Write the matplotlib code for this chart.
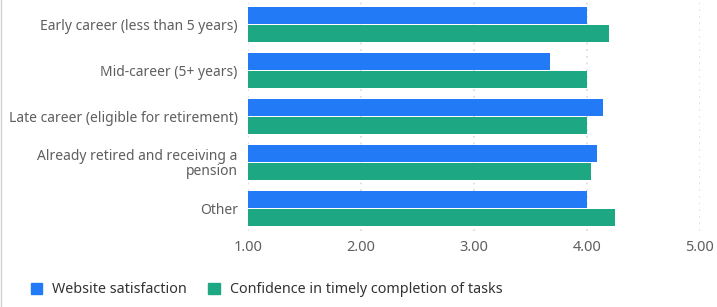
import numpy as np
import matplotlib.pyplot as plt
from matplotlib.lines import Line2D

categories = ['Early career (less than 5 years)', 'Mid-career (5+ years)',
              'Late career (eligible for retirement)',
              'Already retired and receiving a\npension', 'Other']
website = [4.00, 3.67, 4.14, 4.09, 4.00]
confidence = [4.20, 4.00, 4.00, 4.04, 4.25]
series_names = ['Website satisfaction', 'Confidence in timely completion of tasks']
xticks = [1, 2, 3, 4, 5]

blue = '#237AF7'
green = '#1DA782'
txt = '#5f5f5f'

plt.rcParams['font.family'] = ['Noto Sans', 'DejaVu Sans']

fig = plt.figure(figsize=(7.17, 3.07), dpi=100)
ax = fig.add_axes([0.346, 0.246, 0.630, 0.749])

y = np.arange(len(categories))
h = 0.36  # bar height
gap = 0.035
ax.barh(y - h / 2 - gap / 2, np.array(website) - 1, left=1, height=h, color=blue, label=series_names[0])
ax.barh(y + h / 2 + gap / 2, np.array(confidence) - 1, left=1, height=h, color=green, label=series_names[1])

ax.set_xlim(1, 5)
ax.set_ylim(len(categories) - 0.5, -0.5)
ax.set_xticks(xticks)
ax.set_xticklabels(['%.2f' % v for v in xticks])
ax.set_yticks(y)
ax.set_yticklabels(categories, linespacing=1.0)
ax.tick_params(axis='both', length=0, labelsize=10, colors=txt)
ax.tick_params(axis='x', labelsize=10.5, pad=6)
ax.tick_params(axis='y', pad=7.5)
ax.grid(axis='x', color='#d9d9d9', linestyle=(0, (1, 3)), linewidth=1.2)
ax.set_axisbelow(True)
for s in ax.spines.values():
    s.set_visible(False)
for lab in ax.get_yticklabels():
    lab.set_horizontalalignment('right')

# light border on the left like the source container
fig.add_artist(Line2D([0.002, 0.002], [0, 1], color='#d0d0d0', linewidth=1))

handles = [plt.Rectangle((0, 0), 1, 1, color=blue), plt.Rectangle((0, 0), 1, 1, color=green)]
fig.legend(handles, series_names, loc='lower left', bbox_to_anchor=(0.025, -0.01), ncol=2,
           frameon=False, fontsize=10.3, labelcolor='#333333', handlelength=0.8, handleheight=0.8,
           handletextpad=0.7, columnspacing=1.5)

fig.savefig('out.png', dpi=100)
